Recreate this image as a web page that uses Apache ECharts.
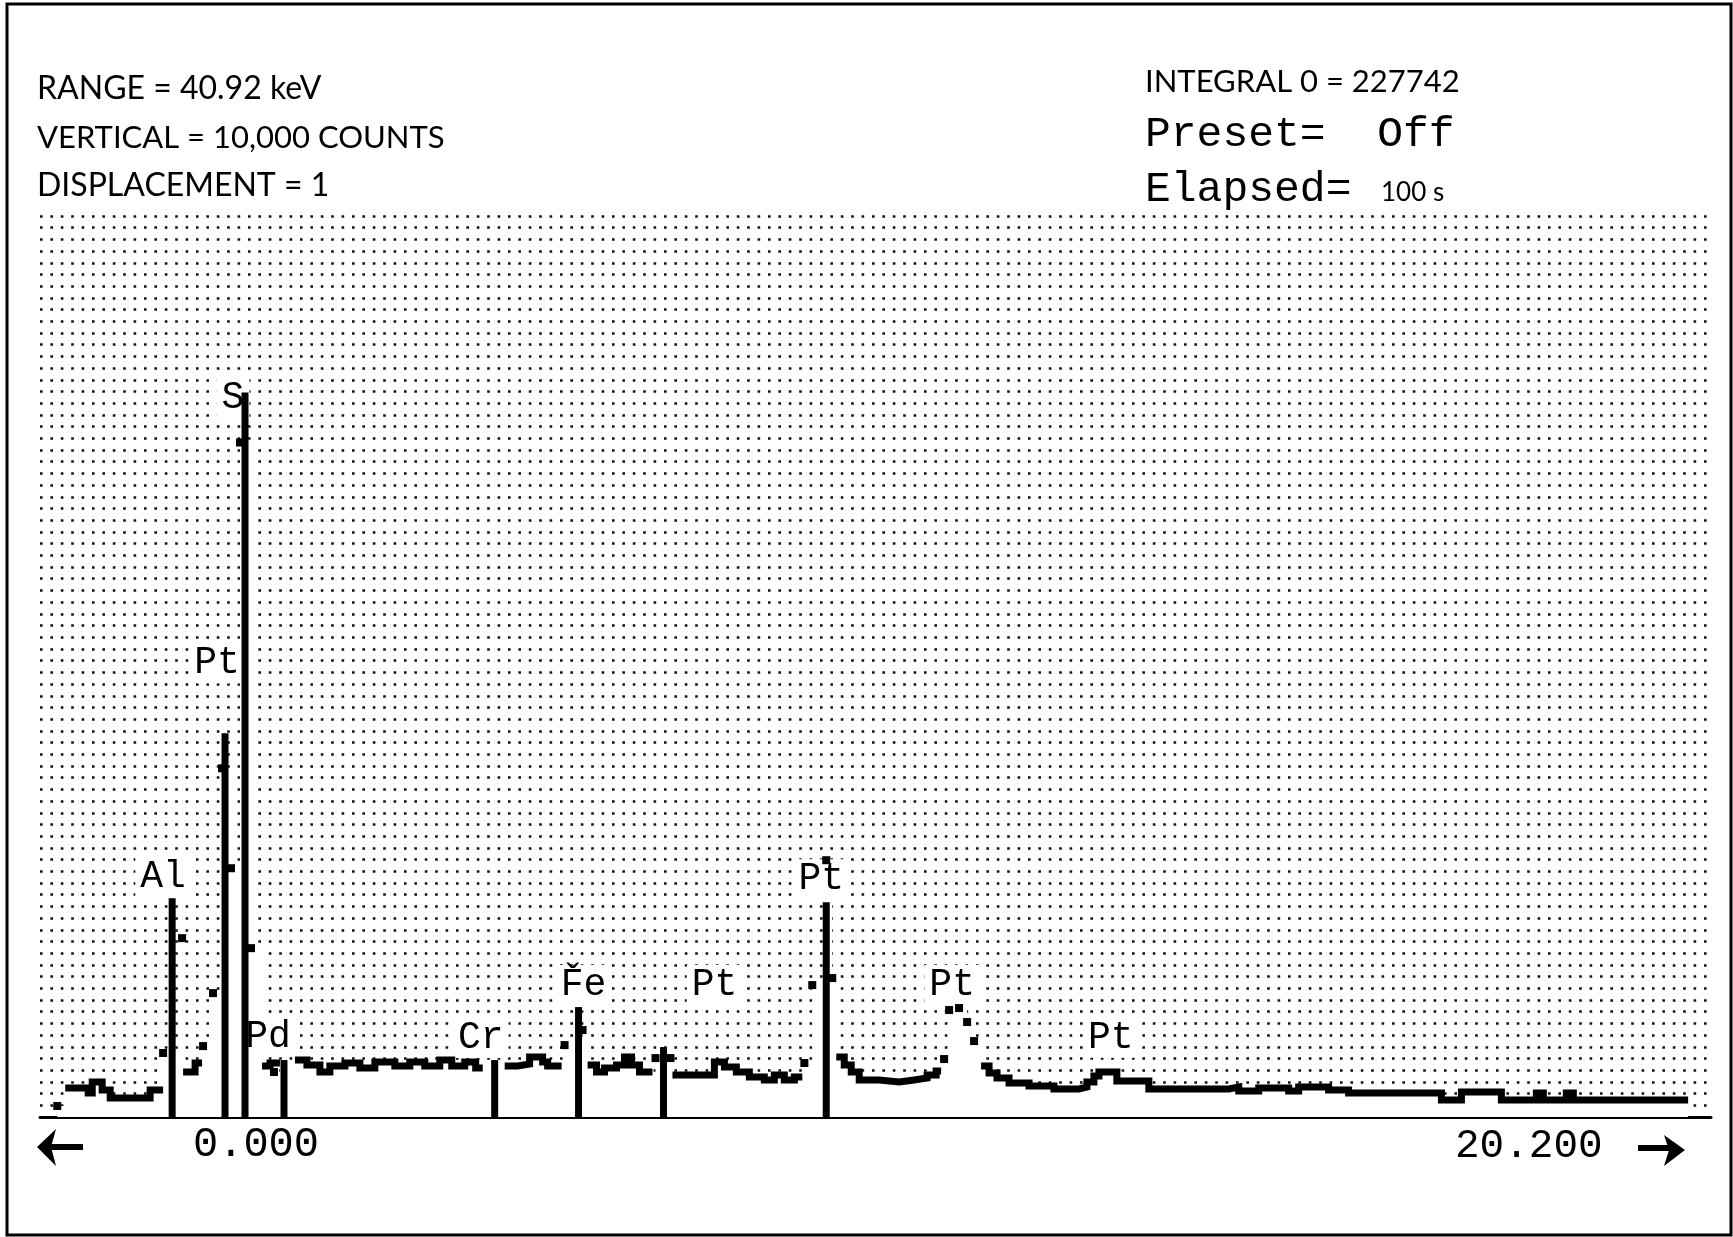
<!DOCTYPE html>
<html>
<head>
<meta charset="utf-8">
<script src="https://cdn.jsdelivr.net/npm/echarts@6/dist/echarts.min.js"></script>
<style>
  html, body { margin: 0; padding: 0; background: #fff; }
  #chart { width: 1733px; height: 1237px; }
</style>
</head>
<body>
<div id="chart"></div>
<script>
// X-ray spectrum: energy in keV, intensity in counts (full scale 10,000)

// continuum pieces, [keV, counts], drawn as stepped traces
const bgStart  = [[0.187,322],[0.466,266],[0.515,388],[0.636,299],[0.734,211],[1.219,299],[1.377,299]];
const bgAlTail = [[1.620,499],[1.766,599],[1.851,599]];
const bgPd     = [[2.580,566],[2.677,599],[2.798,599]];
const bgMid    = [[2.980,632],[3.126,577],[3.284,499],[3.405,566],[3.588,599],[3.770,543],[3.952,610],
                  [4.195,566],[4.377,610],[4.559,566],[4.741,632],[4.887,566],[5.045,610],[5.178,543],[5.264,543]];
const bgCrFe   = [[5.531,566],[5.689,588],[5.834,665],[5.992,610],[6.053,566],[6.223,566]];
const bgFePt   = [[6.539,577],[6.648,499],[6.745,543],[6.891,577],[6.988,665],[7.073,577],[7.170,499],[7.328,499]];
const bgPtLa   = [[7.571,466],[8.081,610],[8.203,555],[8.348,499],[8.506,444],[8.688,410],[8.810,466],
                  [8.931,410],[9.053,444],[9.150,444]];
const bgPtLb   = [[9.563,665],[9.660,577],[9.745,499],[9.842,410],[10.085,388],[10.328,410],[10.510,432],
                  [10.668,466],[10.777,510],[10.838,510]];
const bgTail   = [[11.324,566],[11.421,488],[11.518,432],[11.664,377],[11.907,344],[12.210,311],[12.514,333],
                  [12.611,388],[12.696,455],[12.757,499],[12.975,399],[13.364,311],[14.336,333],[14.457,288],
                  [14.700,322],[15.064,288],[15.186,333],[15.550,299],[15.793,266],[16.922,189],[17.165,277],
                  [17.651,189],[18.076,266],[18.161,189],[18.441,266],[18.526,189],[19.922,189]];

// single channels on the flanks of the peaks
const flankDots = [[0.090,122],[1.377,710],[1.608,1985],[1.863,787],[1.984,1375],[2.094,3870],[2.203,2761],
                   [2.312,7486],[2.446,1874],[2.725,499],[6.259,798],[6.478,965],[7.365,654],[7.547,654],
                   [9.175,599],[9.271,1464],[9.441,2850],[9.514,1542],
                   [10.874,643],[10.935,1187],[11.056,1209],[11.154,1054],[11.239,843]];

// peak marker lines
const markerEnergy = [1.487, 2.130, 2.373, 2.847, 5.409, 6.429, 7.462, 9.441];
const markerCounts = [2429, 4259, 8040, 632, 632, 1220, 776, 2384];

// element identifications
const labelNames  = ['Al', 'Pt', 'S', 'Pd', 'Cr', 'F\u030Ce', 'Pt', 'Pt', 'Pt', 'Pt'];
const labelEnergy = [1.377, 2.033, 2.227, 2.653, 5.240, 6.490, 8.083, 9.381, 10.972, 12.902];
const labelCounts = [2662, 5035, 7985, 887, 876, 1464, 1464, 2639, 1464, 879];

const segments = [bgStart, bgAlTail, bgPd, bgMid, bgCrFe, bgFePt, bgPtLa, bgPtLb, bgTail];

// envelope of every channel, used to blank the dot raster under the trace
const envelope = [].concat(...segments, flankDots).sort((a, b) => a[0] - b[0]);

const MONO = '"Liberation Mono", "DejaVu Sans Mono", monospace';
const SANS = 'Lato, "Noto Sans", sans-serif';

const chart = echarts.init(document.getElementById('chart'), null, { renderer: 'canvas' });

const series = [
  {
    type: 'line', name: 'envelope', data: envelope, step: 'end', symbol: 'none',
    lineStyle: { width: 0, opacity: 0 }, areaStyle: { color: '#fff', opacity: 1 },
    silent: true, z: 1, animation: false
  },
  {
    type: 'scatter', name: 'elements', symbolSize: 0,
    data: labelNames.map((n, i) => ({ name: n, value: [labelEnergy[i], labelCounts[i]] })),
    itemStyle: { opacity: 1 },
    label: {
      show: true, position: 'inside', formatter: '{b}',
      fontFamily: MONO, fontSize: 38, color: '#000', opacity: 1,
      backgroundColor: '#fff', padding: [2, 5, 0, 5]
    },
    silent: true, z: 2, animation: false
  },
  ...segments.map((seg, i) => ({
    type: 'line', name: 'trace' + i, data: seg, step: 'end', symbol: 'none',
    lineStyle: { color: '#000', width: 7, cap: 'butt', join: 'miter' },
    silent: true, z: 3, animation: false
  })),
  {
    type: 'bar', name: 'markers', barWidth: 7,
    data: markerEnergy.map((e, i) => [e, markerCounts[i]]),
    itemStyle: { color: '#000', opacity: 1 }, silent: true, z: 4, animation: false
  },
  {
    type: 'scatter', name: 'channels', data: flankDots, symbol: 'rect', symbolSize: 8,
    itemStyle: { color: '#000', opacity: 1 }, silent: true, z: 5, animation: false
  }
];

const txt = (x, y, text, font) => ({
  type: 'text', x: x, y: y, silent: true,
  style: { text: text, font: font, fill: '#000', textAlign: 'left', textVerticalAlign: 'middle',
           align: 'left', verticalAlign: 'middle' }
});

chart.setOption({
  backgroundColor: '#fff',
  animation: false,
  grid: { left: 40, right: 22, top: 216, bottom: 120, containLabel: false },
  xAxis: {
    type: 'value', min: -0.12, max: 20.2,
    axisLine: { show: true, onZero: false, lineStyle: { color: '#000', width: 3 } },
    axisTick: { show: false }, axisLabel: { show: false }, splitLine: { show: false }
  },
  yAxis: [
    { type: 'value', min: 0, max: 10000, show: false },
    {
      type: 'value', min: 0, max: 77, interval: 1, position: 'left',
      axisLine: { show: false }, axisTick: { show: false }, axisLabel: { show: false },
      splitLine: { show: true, lineStyle: { color: '#111', width: 2.6, type: [2.6, 7.8], cap: 'butt' } }
    }
  ],
  series: series,
  graphic: [
    { type: 'rect', silent: true, shape: { x: 7, y: 4, width: 1724, height: 1231 },
      style: { fill: 'none', stroke: '#000', lineWidth: 3 } },
    txt(37, 89, 'RANGE = 40.92 keV', '32px ' + SANS),
    txt(37, 138, 'VERTICAL = 10,000 COUNTS', '31px ' + SANS),
    txt(37, 186, 'DISPLACEMENT = 1', '32px ' + SANS),
    txt(1145, 82, 'INTEGRAL 0 = 227742', '31px ' + SANS),
    txt(1145, 135, 'Preset=  Off', '43px ' + MONO),
    txt(1145, 190, 'Elapsed=', '43px ' + MONO),
    txt(1381, 193, '100 s', '26px ' + SANS),
    txt(193, 1145, '0.000', '42px ' + MONO),
    txt(1455, 1146, '20.200', '41px ' + MONO),
    // scroll arrows
    { type: 'polygon', silent: true, shape: { points: [[37,1147],[56,1129],[51,1147],[56,1166]] },
      style: { fill: '#000' } },
    { type: 'rect', silent: true, shape: { x: 51, y: 1144, width: 32, height: 6 }, style: { fill: '#000' } },
    { type: 'polygon', silent: true, shape: { points: [[1685,1150],[1664,1135],[1669,1150],[1664,1166]] },
      style: { fill: '#000' } },
    { type: 'rect', silent: true, shape: { x: 1638, y: 1145, width: 31, height: 6 }, style: { fill: '#000' } }
  ]
});
</script>
</body>
</html>
